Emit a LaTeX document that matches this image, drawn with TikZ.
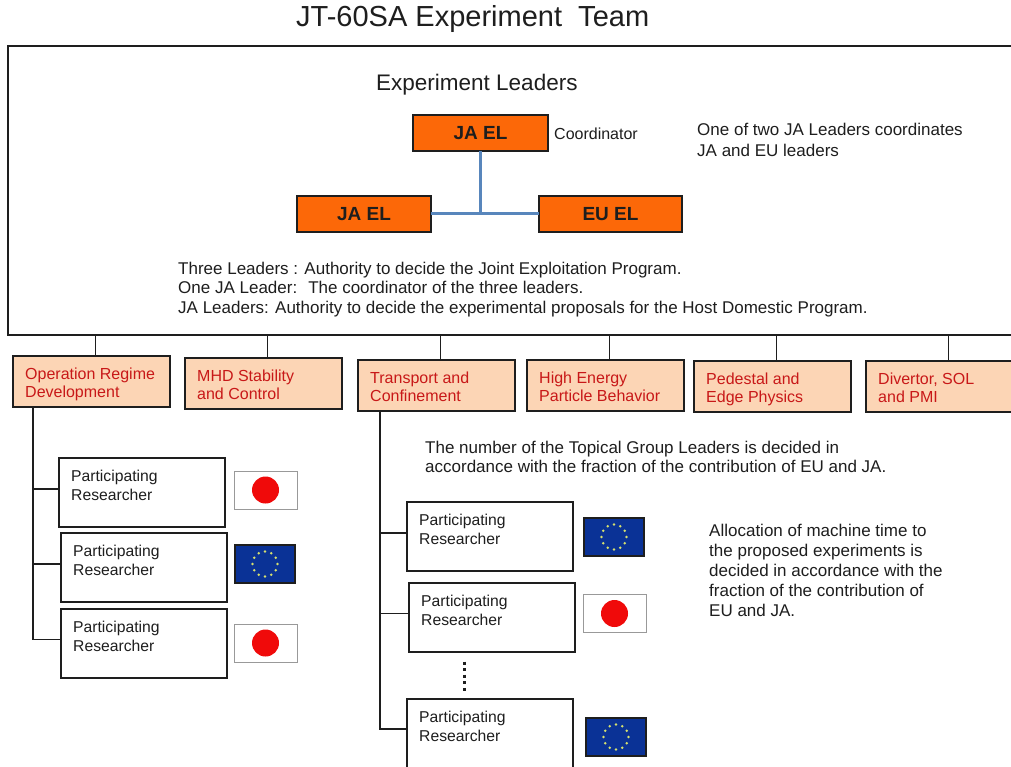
\documentclass[tikz,border=0pt]{standalone}
\usepackage{fontspec}
\setmainfont{Liberation Sans}
\usetikzlibrary{shapes.geometric}
\definecolor{elorange}{RGB}{252,104,8}
\definecolor{peach}{RGB}{252,213,181}
\definecolor{tgred}{RGB}{200,24,24}
\definecolor{elblue}{RGB}{88,134,188}
\definecolor{eublue}{RGB}{10,50,150}
\definecolor{eustar}{RGB}{215,225,110}
\definecolor{jpred}{RGB}{240,10,10}
\definecolor{ink}{RGB}{30,30,30}
\tikzset{
  leader/.style={draw=ink, line width=1.3pt, fill=elorange, inner sep=0pt, outer sep=0pt,
    minimum height=36pt, font=\fontsize{19}{22}\selectfont\bfseries, text=ink},
  tg/.style={draw=ink, line width=1.5pt, fill=peach, inner sep=0pt, outer sep=0pt,
    minimum width=157pt, minimum height=51pt},
  tgtext/.style={anchor=base west, inner sep=0pt, text=tgred, font=\fontsize{16}{18}\selectfont},
  rbox/.style={draw=ink, line width=1.4pt, fill=white, inner sep=0pt, outer sep=0pt,
    minimum width=166pt, minimum height=69pt},
  rtext/.style={anchor=base west, inner sep=0pt, text=ink, font=\fontsize{15.7}{18}\selectfont},
  body/.style={anchor=base west, inner sep=0pt, text=ink, font=\fontsize{17}{20}\selectfont},
  stub/.style={draw=ink, line width=1.4pt},
  jp/.style={draw=black!40, line width=0.9pt, fill=white, minimum width=63pt, minimum height=38pt, inner sep=0pt, outer sep=0pt},
  eu/.style={draw=ink, line width=1.2pt, fill=eublue, minimum width=60pt, minimum height=38pt, inner sep=0pt, outer sep=0pt},
  eustarshape/.style={circle, fill=eustar, draw=none, inner sep=0pt, minimum size=2.8pt}
}
\newcommand\tgbox[5]{%
  \node[tg, anchor=north west] (#1) at (#2,#3) {};
  \node[tgtext] (#1a) at ([shift={(12pt,-23.5pt)}]#1.north west) {#4};
  \node[tgtext] (#1b) at ([shift={(12pt,-41.5pt)}]#1.north west) {#5};
}
\newcommand\rsbox[3]{%
  \node[rbox, anchor=north west] (#1) at (#2,#3) {};
  \node[rtext] (#1a) at ([shift={(12pt,-23pt)}]#1.north west) {Participating};
  \node[rtext] (#1b) at ([shift={(12pt,-42pt)}]#1.north west) {Researcher};
}
\newcommand\jpflag[3]{%
  \node[jp] (#1) at (#2,#3) {};
  \fill[jpred] (#1.center) circle[radius=13.5pt];
}
\newcommand\euflag[3]{%
  \node[eu] (#1) at (#2,#3) {};
  \foreach \a in {0,30,...,330} \node[eustarshape] at ([shift={(\a:12.5pt)}]#1.center) {};
}
\begin{document}
\begin{tikzpicture}[x=1pt,y=-1pt]
\useasboundingbox (0,0) rectangle (1011,767);
\fill[white] (0,0) rectangle (1011,767);
\clip (0,0) rectangle (1011,767);

% title
\node[anchor=base west, inner sep=0pt, text=ink, font=\fontsize{29}{33}\selectfont] (title) at (296,27) {JT-60SA Experiment~ Team};

% main box
\node[draw=ink, line width=2pt, anchor=north west, inner sep=0pt, outer sep=0pt,
  minimum width=1030pt, minimum height=289pt] (main) at (8,46) {};

\node[anchor=base west, inner sep=0pt, text=ink, font=\fontsize{22.5}{26}\selectfont] (exl) at (376,91) {Experiment Leaders};

% leaders
\node[leader, minimum width=135pt] (jatop) at (480.5,133) {JA EL};
\node[leader, minimum width=134pt] (jaleft) at (364,214) {JA EL};
\node[leader, minimum width=143pt] (euel) at (610.5,214) {EU EL};
\draw[elblue, line width=3pt] (jatop.south) -- (jatop.south |- jaleft.east);
\draw[elblue, line width=3pt] (jaleft.east) -- (euel.west);

\node[anchor=base west, inner sep=0pt, text=ink, font=\fontsize{16}{19}\selectfont] (coord) at (554,140) {Coordinator};
\node[body] (one1) at (697,136) {One of two JA Leaders coordinates};
\node[body] (one2) at (697,157) {JA and EU leaders};

\node[body] (thr1) at (178,274) {Three Leaders : Authority to decide the Joint Exploitation Program.};
\node[body] (thr2) at (178,293) {One JA Leader:~ The coordinator of the three leaders.};
\node[body] (thr3) at (178,313) {JA Leaders: Authority to decide the experimental proposals for the Host Domestic Program.};

% topical groups
\tgbox{tg1}{13}{356}{Operation Regime}{Development}
\tgbox{tg2}{185}{358}{MHD Stability}{and Control}
\tgbox{tg3}{358}{360}{Transport and}{Confinement}
\tgbox{tg4}{527}{360}{High Energy}{Particle Behavior}
\tgbox{tg5}{694}{361}{Pedestal and}{Edge Physics}
\tgbox{tg6}{866}{361}{Divertor, SOL}{and PMI}
\foreach \n in {tg1,tg2,tg3,tg4,tg5,tg6}
  \draw[stub] ([xshift=4pt]\n.north) -- ([xshift=4pt]\n.north |- main.south);

\node[body] (num1) at (425,453) {The number of the Topical Group Leaders is decided in};
\node[body] (num2) at (425,472) {accordance with the fraction of the contribution of EU and JA.};

\node[body] (al1) at (709,536) {Allocation of machine time to};
\node[body] (al2) at (709,556) {the proposed experiments is};
\node[body] (al3) at (709,576) {decided in accordance with the};
\node[body] (al4) at (709,596) {fraction of the contribution of};
\node[body] (al5) at (709,616) {EU and JA.};

% researchers left
\rsbox{r1}{59}{458}
\rsbox{r2}{61}{533}
\rsbox{r3}{61}{609}
\coordinate (trunkL) at ([xshift=20pt]tg1.south west);
\draw[stub] (trunkL) |- ([yshift=4pt]r3.west);
\draw[stub] ([yshift=3.5pt]r1.west) -- ([yshift=3.5pt]r1.west -| trunkL);
\draw[stub] ([yshift=3.5pt]r2.west) -- ([yshift=3.5pt]r2.west -| trunkL);

% researchers right
\rsbox{r4}{407}{502}
\rsbox{r5}{409}{583}
\rsbox{r6}{407}{699}
\coordinate (trunkR) at ([xshift=22pt]tg3.south west);
\draw[stub] (trunkR) |- ([yshift=4.5pt]r6.west);
\draw[stub] ([yshift=3.5pt]r4.west) -- ([yshift=3.5pt]r4.west -| trunkR);
\draw[stub] ([yshift=4pt]r5.west) -- ([yshift=4pt]r5.west -| trunkR);
\coordinate (dtop) at (464,661.5);
\coordinate (dbot) at (464,691);
\draw[ink, line width=3pt, dash pattern=on 3pt off 3.6pt] (dtop) -- (dbot);

% flags
\jpflag{jp1}{265.5}{490}
\euflag{eu1}{265}{564}
\jpflag{jp2}{265.5}{643}
\euflag{eu2}{614}{537}
\jpflag{jp3}{614.5}{613.5}
\euflag{eu3}{616}{737}
\end{tikzpicture}
\end{document}
